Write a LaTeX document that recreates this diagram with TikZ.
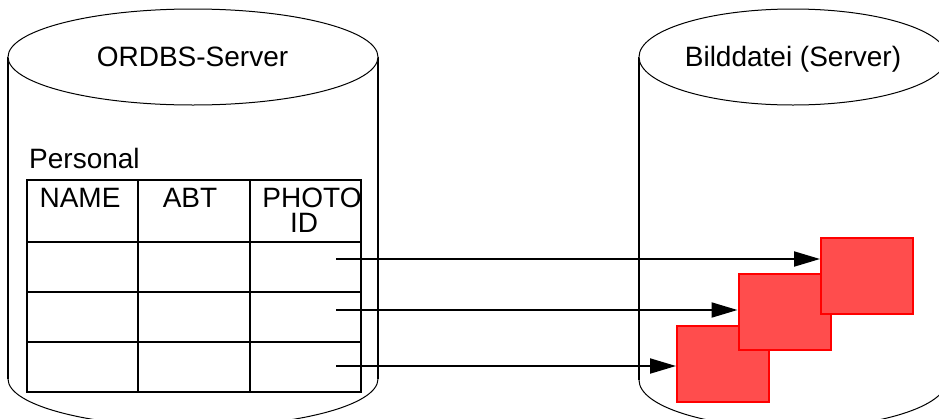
\documentclass[tikz,border=0pt]{standalone}
\usepackage{fontspec}
\setmainfont{Liberation Sans}
\usetikzlibrary{arrows.meta}
\definecolor{imgred}{RGB}{255,77,77}

\begin{document}
\begin{tikzpicture}
[x=1pt,y=-1pt,
 every node/.style={font=\fontsize{28pt}{25pt}\selectfont, inner sep=0pt},
 side/.style={line width=2pt},
 rim/.style={line width=1pt},
 cell/.style={draw, line width=2pt, minimum width=111.3pt, minimum height=50pt, anchor=north west},
 bild/.style={draw=red, fill=imgred, line width=2pt, minimum width=92pt, minimum height=76pt},
 link/.style={line width=2pt, -{Triangle[length=26pt,width=15pt]}},
]
\useasboundingbox (0,0) rectangle (939,418);
\clip (0,0) rectangle (939,418);
\def \cw {111.3}

% ORDBS cylinder
\draw[side] (8,57) -- (8,379);
\draw[side] (378,57) -- (378,379);
\draw[rim] (8,379) arc[start angle=180, end angle=0, x radius=185, y radius=48];
\draw[rim, fill=white] (193,57) ellipse [x radius=185, y radius=48];
\node[anchor=base] (ordbs) at (192.5,66) {ORDBS-Server};

% image server cylinder
\draw[side] (639,57) -- (639,380);
\draw[rim] (639,380) arc[start angle=180, end angle=0, x radius=154, y radius=48];
\draw[rim, fill=white] (793,57) ellipse [x radius=154, y radius=48];
\node[anchor=base] (bilddatei) at (793,66) {Bilddatei (Server)};

% table
\node[anchor=base west] (personal) at (29,168) {Personal};
\foreach \c in {1,2,3}
{
{\node[cell, minimum height=62pt] (head-\c) at ({26+\cw*(\c-1)},179) {};}
\foreach \r in {1,2,3}
{\node[cell] (row-\r-\c) at ({26+\cw*(\c-1)},{241+50*(\r-1)}) {};}
}
\node[anchor=base] (name) at (80,207) {NAME};
\node[anchor=base] (abt) at (190,207) {ABT};
\node[anchor=base] (photo) at (312,207) {PHOTO};
\node[anchor=base] (id) at (304,232) {ID};

% images
\node[bild] (img1) at (723,364) {};
\node[bild] (img2) at (784.5,311.5) {};
\node[bild] (img3) at (867,276) {};

\coordinate (p1) at (336,259);
\coordinate (p2) at (336,310);
\coordinate (p3) at (336,366);
\draw[link] (p1) -- (p1 -| img3.west);
\draw[link] (p2) -- (p2 -| img2.west);
\draw[link] (p3) -- (p3 -| img1.west);
\end{tikzpicture}
\end{document}
